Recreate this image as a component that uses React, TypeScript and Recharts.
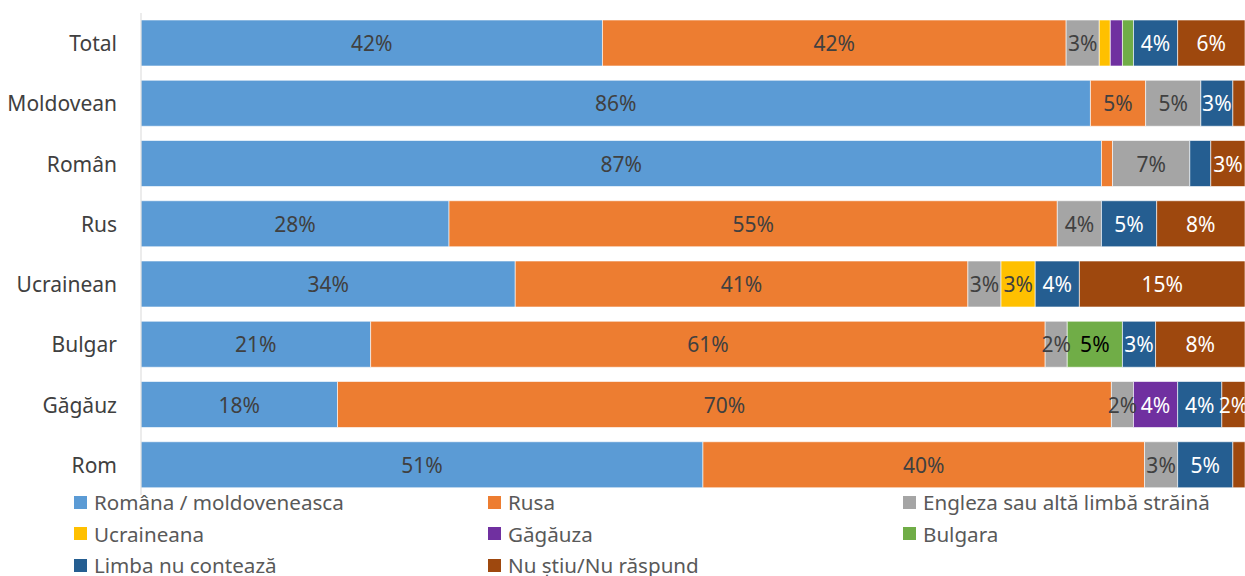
import { Bar, BarChart, LabelList, XAxis, YAxis } from 'recharts';

const categories = ['Total', 'Moldovean', 'Român', 'Rus', 'Ucrainean', 'Bulgar', 'Găgăuz', 'Rom'];

const romana = [41.8, 86.0, 87.0, 27.9, 33.9, 20.8, 17.8, 50.9];
const rusa = [42.0, 5.0, 1.0, 55.1, 41.0, 61.1, 70.1, 40.0];
const engleza = [3.0, 5.0, 7.0, 4.0, 3.0, 2.0, 2.0, 3.0];
const ucraineana = [1.0, 0, 0, 0, 3.1, 0, 0, 0];
const gagauza = [1.1, 0, 0, 0, 0, 0, 4.0, 0];
const bulgara = [1.0, 0, 0, 0, 0, 5.0, 0, 0];
const nuConteaza = [4.0, 2.9, 1.9, 5.0, 4.0, 3.0, 4.0, 5.0];
const nuStiu = [6.1, 1.1, 3.1, 8.0, 15.0, 8.1, 2.1, 1.1];

const series = [
  { key: 'romana', name: 'Româna / moldoveneasca', values: romana, color: '#5B9BD5', text: '#404040' },
  { key: 'rusa', name: 'Rusa', values: rusa, color: '#ED7D31', text: '#404040' },
  { key: 'engleza', name: 'Engleza sau altă limbă străină', values: engleza, color: '#A5A5A5', text: '#404040' },
  { key: 'ucraineana', name: 'Ucraineana', values: ucraineana, color: '#FFC000', text: '#404040' },
  { key: 'gagauza', name: 'Găgăuza', values: gagauza, color: '#7030A0', text: '#ffffff' },
  { key: 'bulgara', name: 'Bulgara', values: bulgara, color: '#70AD47', text: '#000000' },
  { key: 'nuConteaza', name: 'Limba nu contează', values: nuConteaza, color: '#255E91', text: '#ffffff' },
  { key: 'nuStiu', name: 'Nu știu/Nu răspund', values: nuStiu, color: '#9E480E', text: '#ffffff' }
];

const data = categories.map((name, i) => {
  const row: Record<string, string | number> = { name };
  series.forEach((s) => {
    row[s.key] = s.values[i];
  });
  return row;
});

const FONT = '"Noto Sans", sans-serif';

const makeLabel = (fill: string) => (props: any) => {
  const { x, y, width, height, value } = props;
  if (value == null || value < 2) return null;
  return (
    <text
      x={x + width / 2}
      y={y + height / 2}
      textAnchor="middle"
      dominantBaseline="central"
      fill={fill}
      fontSize={21}
      fontFamily={FONT}
    >
      {Math.round(value)}%
    </text>
  );
};

const CategoryTick = (props: any) => {
  const { y, payload } = props;
  return (
    <text x={117} y={y} textAnchor="end" dominantBaseline="central" fill="#404040" fontSize={21} fontFamily={FONT}>
      {payload.value}
    </text>
  );
};

// legend drawn as plain html under the plot, three columns like the original
const LegendBox = () => {
  const cols = [74, 488, 903];
  return (
    <div
      style={{
        position: 'absolute',
        left: 0,
        top: 488,
        width: 1245,
        height: 88,
        overflow: 'hidden',
        fontFamily: FONT,
        fontSize: 20.6,
        color: '#595959'
      }}
    >
      {series.map((s, i) => (
        <div
          key={s.key}
          style={{
            position: 'absolute',
            left: cols[i % 3],
            top: Math.floor(i / 3) * 31.5,
            display: 'flex',
            alignItems: 'center',
            height: 28,
            whiteSpace: 'nowrap'
          }}
        >
          <span style={{ display: 'inline-block', width: 13, height: 13, background: s.color, marginRight: 7 }} />
          {s.name}
        </div>
      ))}
    </div>
  );
};

export default function App() {
  return (
    <div style={{ position: 'absolute', left: 0, top: 0, width: 1245, height: 576, background: '#fff', overflow: 'hidden' }}>
      <BarChart
        width={1245}
        height={576}
        data={data}
        layout="vertical"
        margin={{ top: 13, right: 0, bottom: 81, left: 0 }}
        barSize={46}
      >
        <XAxis type="number" domain={[0, 100]} hide />
        <YAxis
          type="category"
          dataKey="name"
          width={141}
          axisLine={{ stroke: '#D9D9D9' }}
          tickLine={false}
          tick={<CategoryTick />}
        />
        {series.map((s) => (
          <Bar
            key={s.key}
            dataKey={s.key}
            name={s.name}
            stackId="a"
            fill={s.color}
            stroke="#ffffff"
            strokeWidth={0.6}
            isAnimationActive={false}
          >
            <LabelList dataKey={s.key} content={makeLabel(s.text)} />
          </Bar>
        ))}
      </BarChart>
      <LegendBox />
    </div>
  );
}
